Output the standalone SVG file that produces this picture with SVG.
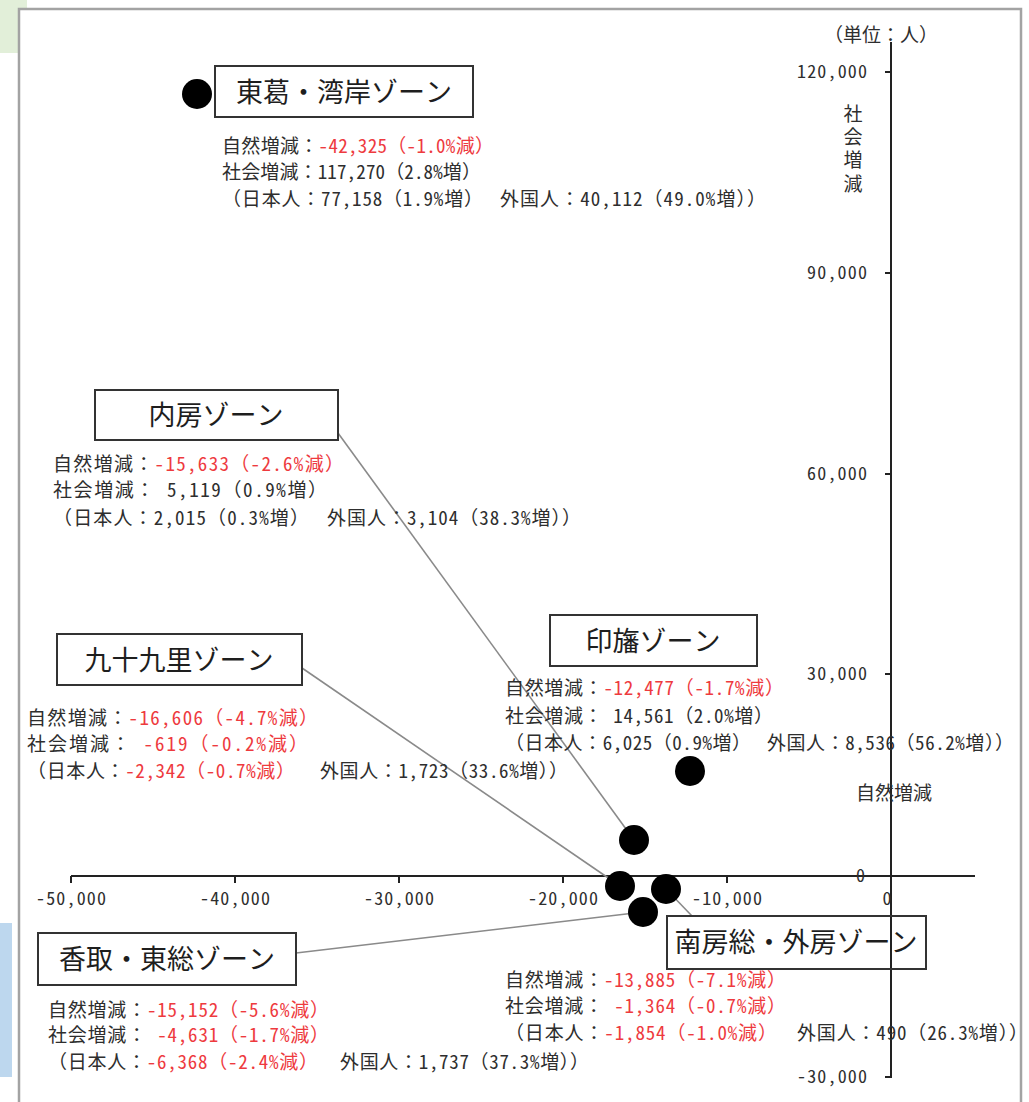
<svg xmlns="http://www.w3.org/2000/svg" width="1029" height="1102" viewBox="0 0 1029 1102" xml:space="preserve">
<style>
text{font-family:"Noto Sans Mono CJK JP","Noto Sans CJK JP",sans-serif;fill:#2e2e2e}
.d{font-size:19px}
.r{fill:#ee3a3e}
.t{font-size:27px;fill:#1e1e1e;text-anchor:middle}
.ax{font-size:18px;fill:#4a4a4a}
.xl{text-anchor:middle}
.yl{text-anchor:end}
.box{fill:none;stroke:#333;stroke-width:2}
.con{stroke:#8a8a8a;stroke-width:1.6;fill:none}
.axis{stroke:#222;stroke-width:2;fill:none}
.dot{fill:#000}
</style>
<rect x="0" y="0" width="1029" height="1102" fill="#fff"/>
<rect x="0" y="0" width="27" height="53" fill="#e2efd9"/>
<rect x="0" y="923" width="12" height="154" fill="#bdd7ee"/>
<rect x="19" y="9" width="1002" height="1110" fill="#fff" stroke="#a3a3a3" stroke-width="2.5"/>

<g id="axes">
<path class="axis" d="M71,876H975M891,42V1078"/>
<path class="axis" d="M71,876v7M235,876v7M399,876v7M563,876v7M727,876v7M891,876v7"/>
<path class="axis" d="M885,72h6M885,273h6M885,474h6M885,674h6M885,876h6M885,1077h6"/>
<g class="ax">
<text class="xl" x="71" y="905" textLength="70">-50,000</text>
<text class="xl" x="235" y="905" textLength="70">-40,000</text>
<text class="xl" x="399" y="905" textLength="70">-30,000</text>
<text class="xl" x="563" y="905" textLength="70">-20,000</text>
<text class="xl" x="727" y="905" textLength="70">-10,000</text>
<text class="xl" x="887" y="905">0</text>
<text class="yl" x="867" y="78" textLength="70">120,000</text>
<text class="yl" x="867" y="279" textLength="60">90,000</text>
<text class="yl" x="867" y="480" textLength="60">60,000</text>
<text class="yl" x="867" y="680" textLength="60">30,000</text>
<text class="yl" x="865" y="882">0</text>
<text class="yl" x="867" y="1083" textLength="70">-30,000</text>
</g>
<text class="d" x="824" y="42">（単位：人）</text>
<text class="d" x="856" y="800">自然増減</text>
<text class="d" x="853" y="104" writing-mode="vertical-rl" style="letter-spacing:4.3px">社会増減</text>
</g>

<g id="connectors">
<line class="con" x1="338" y1="433" x2="634" y2="840"/>
<line class="con" x1="302" y1="668" x2="620" y2="886"/>
<line class="con" x1="296" y1="953" x2="643" y2="912"/>
<line class="con" x1="666" y1="889" x2="692" y2="916"/>
</g>

<g id="dots">
<circle class="dot" cx="197" cy="94" r="15"/>
<circle class="dot" cx="634" cy="840" r="15"/>
<circle class="dot" cx="690" cy="771" r="15"/>
<circle class="dot" cx="620" cy="886" r="15"/>
<circle class="dot" cx="666" cy="889" r="15"/>
<circle class="dot" cx="643" cy="912" r="15"/>
</g>

<g id="node-tokatsu">
<rect class="box" x="215" y="66" width="258" height="51"/>
<text class="t" x="344" y="102">東葛・湾岸ゾーン</text>
<text class="d" x="222" y="153" textLength="272">自然増減：<tspan class="r">-42,325（-1.0%減）</tspan></text>
<text class="d" x="222" y="179" textLength="259">社会増減：117,270（2.8%増）</text>
<text class="d" x="222" y="206" textLength="261">（日本人：77,158（1.9%増）</text>
<text class="d" x="500" y="206" textLength="266">外国人：40,112（49.0%増））</text>
</g>

<g id="node-uchibo">
<rect class="box" x="95" y="390" width="243" height="50"/>
<text class="t" x="216" y="425">内房ゾーン</text>
<text class="d" x="53" y="471" textLength="291">自然増減：<tspan class="r">-15,633（-2.6%減）</tspan></text>
<text class="d" x="53" y="497" textLength="274">社会増減：  5,119（0.9%増）</text>
<text class="d" x="53" y="525" textLength="256">（日本人：2,015（0.3%増）</text>
<text class="d" x="327" y="525" textLength="254">外国人：3,104（38.3%増））</text>
</g>

<g id="node-kujukuri">
<rect class="box" x="57" y="634" width="245" height="51"/>
<text class="t" x="179" y="670">九十九里ゾーン</text>
<text class="d" x="27" y="725" textLength="291">自然増減：<tspan class="r">-16,606（-4.7%減）</tspan></text>
<text class="d" x="27" y="751" textLength="281">社会増減：<tspan class="r">   -619（-0.2%減）</tspan></text>
<text class="d" x="27" y="778" textLength="268">（日本人：<tspan class="r">-2,342（-0.7%減）</tspan></text>
<text class="d" x="320" y="778" textLength="248">外国人：1,723（33.6%増））</text>
</g>

<g id="node-inba">
<rect class="box" x="550" y="615" width="207" height="51"/>
<text class="t" x="653" y="651">印旛ゾーン</text>
<text class="d" x="505" y="695" textLength="279">自然増減：<tspan class="r">-12,477（-1.7%減）</tspan></text>
<text class="d" x="505" y="723" textLength="268">社会増減： 14,561（2.0%増）</text>
<text class="d" x="505" y="750" textLength="246">（日本人：6,025（0.9%増）</text>
<text class="d" x="767" y="750" textLength="247">外国人：8,536（56.2%増））</text>
</g>

<g id="node-katori">
<rect class="box" x="38" y="933" width="258" height="52"/>
<text class="t" x="167" y="969">香取・東総ゾーン</text>
<text class="d" x="48" y="1017" textLength="281">自然増減：<tspan class="r">-15,152（-5.6%減）</tspan></text>
<text class="d" x="48" y="1042" textLength="281">社会増減：<tspan class="r"> -4,631（-1.7%減）</tspan></text>
<text class="d" x="48" y="1069" textLength="270">（日本人：<tspan class="r">-6,368（-2.4%減）</tspan></text>
<text class="d" x="340" y="1069" textLength="249">外国人：1,737（37.3%増））</text>
</g>

<g id="node-minamiboso">
<rect class="box" x="667" y="916" width="259" height="53"/>
<text class="t" x="796" y="952">南房総・外房ゾーン</text>
<text class="d" x="505" y="987" textLength="281">自然増減：<tspan class="r">-13,885（-7.1%減）</tspan></text>
<text class="d" x="505" y="1013" textLength="281">社会増減：<tspan class="r"> -1,364（-0.7%減）</tspan></text>
<text class="d" x="505" y="1040" textLength="272">（日本人：<tspan class="r">-1,854（-1.0%減）</tspan></text>
<text class="d" x="797" y="1040" textLength="231">外国人：490（26.3%増））</text>
</g>
</svg>
